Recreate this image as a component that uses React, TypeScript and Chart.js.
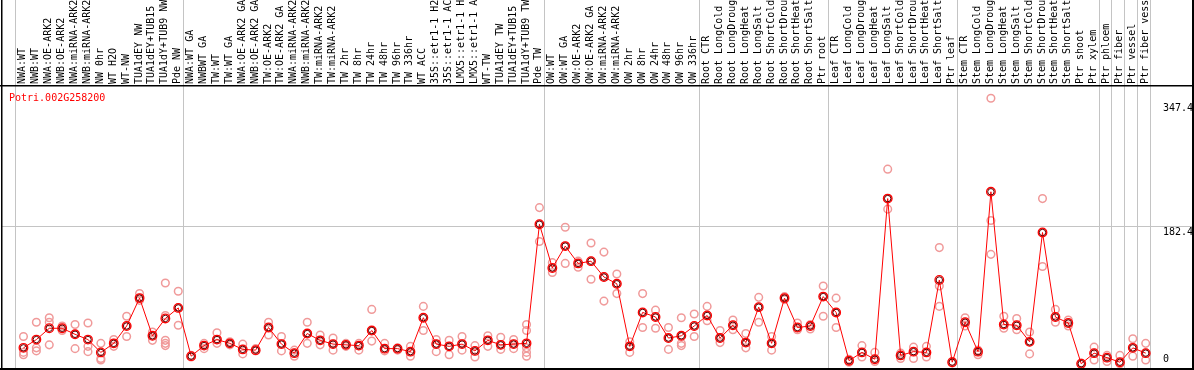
import React, { useEffect, useRef } from "react";
import { Chart, registerables } from "chart.js";

Chart.register(...registerables);

const GENE_ID = "Potri.002G258200";

const sampleLabels = [
  "NWA:WT", "NWB:WT", "NWA:OE-ARK2", "NWB:OE-ARK2", "NWA:miRNA-ARK2", "NWB:miRNA-ARK2",
  "NW 0hr", "WT H2O", "WT-NW", "TUA1dEY NW", "TUA1dEY+TUB15", "TUA1dY+TUB9 NW", "Pde NW",
  "NWA:WT GA", "NWBWT GA", "TW:WT", "TW:WT GA", "NWA:OE-ARK2 GA", "NWB:OE-ARK2 GA",
  "TW:OE-ARK2", "TW:OE-ARK2 GA", "NWA:miRNA-ARK2", "NWB:miRNA-ARK2", "TW:miRNA-ARK2",
  "TW:miRNA-ARK2", "TW 2hr", "TW 8hr", "TW 24hr", "TW 48hr", "TW 96hr", "TW 336hr",
  "WT ACC", "35S::etr1-1 H2", "35S::etr1-1 AC", "LMX5::etr1-1 H", "LMX5::etr1-1 A",
  "WT-TW", "TUA1dEY TW", "TUA1dEY+TUB15", "TUA1dY+TUB9 TW", "Pde TW",
  "OW:WT", "OW:WT GA", "OW:OE-ARK2", "OW:OE-ARK2 GA", "OW:miRNA-ARK2", "OW:miRNA-ARK2",
  "OW 2hr", "OW 8hr", "OW 24hr", "OW 48hr", "OW 96hr", "OW 336hr",
  "Root CTR", "Root LongCold", "Root LongDroug", "Root LongHeat", "Root LongSalt",
  "Root ShortCold", "Root ShortDrou", "Root ShortHeat", "Root ShortSalt", "Ptr root",
  "Leaf CTR", "Leaf LongCold", "Leaf LongDroug", "Leaf LongHeat", "Leaf LongSalt",
  "Leaf ShortCold", "Leaf ShortDrou", "Leaf ShortHeat", "Leaf ShortSalt", "Ptr leaf",
  "Stem CTR", "Stem LongCold", "Stem LongDroug", "Stem LongHeat", "Stem LongSalt",
  "Stem ShortCold", "Stem ShortDrou", "Stem ShortHeat", "Stem ShortSalt",
  "Ptr shoot", "Ptr xylem", "Ptr phloem", "Ptr fiber", "Ptr vessel", "Ptr fiber vess",
];

const meanValues = [
  21, 32, 47, 47, 39, 32, 15, 27, 50, 87, 37, 60, 74,
  10, 24, 32, 27, 19, 18, 48, 26, 14, 40, 31, 26, 25, 24, 44, 20, 20, 16, 61, 26, 23, 26, 17, 31, 25, 26, 27, 185,
  127, 156, 133, 136, 115, 106, 23, 68, 62, 34, 37, 50,
  64, 34, 51, 28, 75, 27, 87, 48, 50, 89,
  68, 4, 15, 6, 219, 11, 16, 15, 111, 2,
  55, 16, 228, 52, 51, 29, 174, 62, 54, 0, 14,
  8, 2, 21, 14,
];

const repHigh = [
  36, 55, 61, 50, 52, 54, 27, 32, 63, 93, 42, 107, 96,
  11, 27, 41, 29, 26, 20, 55, 36, 18, 55, 38, 34, 27, 27, 72, 27, 21, 23, 76, 32, 31, 36, 24, 37, 35, 32, 52, 207,
  134, 181, 136, 160, 148, 119, 29, 93, 71, 48, 61, 66,
  76, 44, 58, 40, 88, 36, 89, 54, 52, 103,
  87, 6, 24, 15, 258, 14, 22, 23, 154, 3,
  61, 18, 352, 63, 60, 42, 219, 72, 58, 1, 22,
  11, 11, 33, 27,
];

const repMid = [
  15, 21, 55, 47, 39, 23, 7, 27, 50, 87, 37, 64, 74,
  10, 24, 32, 27, 19, 18, 48, 26, 14, 40, 31, 26, 25, 24, 44, 20, 20, 16, 61, 26, 23, 26, 17, 31, 25, 26, 44, 185,
  127, 156, 133, 136, 115, 106, 23, 68, 62, 34, 37, 50,
  64, 34, 51, 28, 75, 27, 87, 48, 50, 89,
  68, 4, 15, 6, 219, 11, 16, 15, 103, 1,
  55, 16, 190, 52, 51, 29, 174, 62, 54, 0, 14,
  8, 2, 21, 14,
];

const repLow = [
  12, 17, 25, 44, 20, 16, 5, 23, 36, 84, 31, 31, 51,
  9, 20, 27, 25, 13, 17, 38, 17, 10, 27, 25, 18, 23, 18, 30, 17, 18, 10, 44, 16, 12, 18, 9, 23, 19, 20, 21, 162,
  121, 133, 128, 112, 83, 93, 15, 48, 47, 19, 27, 36,
  57, 28, 45, 21, 55, 18, 85, 45, 46, 63,
  48, 2, 9, 3, 205, 7, 7, 9, 76, 2,
  50, 12, 145, 47, 45, 13, 129, 55, 50, 0, 5,
  3, 0, 10, 5,
];

// [sample index, value] for samples with more than three replicates
const extraReps: [number, number][] = [
  [11, 27], [11, 24], [39, 15], [39, 10], [51, 24],
];

// boundaries between tissue groups (in sample-index units)
const groupBreaks = [-0.5, 12.5, 40.5, 52.5, 62.5, 72.5, 83.5, 84.5, 85.5, 86.5, 87.5];

const yTickValues = [347.4, 182.4, 0];
const yTickLabels = ["347.4", "182.4", "0"];

const FONT = '10px "DejaVu Sans Mono", "Liberation Mono", monospace';

export default function App() {
  const canvasRef = useRef<HTMLCanvasElement | null>(null);

  useEffect(() => {
    const canvas = canvasRef.current;
    if (!canvas) return;

    const repPoints: { x: number; y: number }[] = [];
    meanValues.forEach((_, i) => {
      repPoints.push({ x: i, y: repHigh[i] });
      repPoints.push({ x: i, y: repMid[i] });
      repPoints.push({ x: i, y: repLow[i] });
    });
    extraReps.forEach(([i, v]) => repPoints.push({ x: i, y: v }));

    const meanPoints = meanValues.map((v, i) => ({ x: i, y: v }));

    const decor = {
      id: "decor",
      beforeDatasetsDraw(chart: any) {
        const { ctx, scales } = chart;
        const xs = scales.x;
        const ys = scales.y;
        ctx.save();
        ctx.strokeStyle = "#c4c4c4";
        ctx.lineWidth = 1;
        groupBreaks.forEach((b) => {
          const px = Math.floor(xs.getPixelForValue(b) - 1.5) + 0.5;
          ctx.beginPath();
          ctx.moveTo(px, 0);
          ctx.lineTo(px, 368);
          ctx.stroke();
        });
        const gy = Math.round(ys.getPixelForValue(yTickValues[1])) + 0.5;
        ctx.beginPath();
        ctx.moveTo(1, gy);
        ctx.lineTo(1193, gy);
        ctx.stroke();
        ctx.restore();
      },
      afterDatasetsDraw(chart: any) {
        const { ctx, scales } = chart;
        const xs = scales.x;
        const ys = scales.y;
        ctx.save();
        // borders
        ctx.fillStyle = "#000";
        ctx.fillRect(1, 0, 1.5, 370);
        ctx.fillRect(1192, 0, 2, 370);
        ctx.fillRect(0, 85, 1194, 1.5);
        ctx.fillRect(0, 368, 1194, 2);

        // rotated sample labels
        ctx.font = FONT;
        ctx.fillStyle = "#000";
        ctx.textAlign = "left";
        ctx.textBaseline = "alphabetic";
        ctx.save();
        ctx.beginPath();
        ctx.rect(0, 0, 1194, 84.5);
        ctx.clip();
        sampleLabels.forEach((lab, i) => {
          const px = xs.getPixelForValue(i);
          ctx.save();
          ctx.translate(px + 2, 84);
          ctx.rotate(-Math.PI / 2);
          ctx.fillText(lab, 0, 0);
          ctx.restore();
        });
        ctx.restore();

        // gene id
        ctx.fillStyle = "#ff0000";
        ctx.fillText(GENE_ID, 9, 101);

        // y tick labels
        ctx.fillStyle = "#000";
        yTickValues.forEach((v, k) => {
          const py = ys.getPixelForValue(v);
          const base = v === 0 ? py - 2 : py + 9;
          ctx.fillText(yTickLabels[k], 1163, base);
        });
        ctx.restore();
      },
    };

    const chart = new Chart(canvas, {
      type: "line",
      data: {
        datasets: [
          {
            label: "replicates",
            data: repPoints,
            showLine: false,
            pointRadius: 3.8,
            pointBorderWidth: 1.5,
            pointBorderColor: "#f09a9a",
            pointBackgroundColor: "rgba(0,0,0,0)",
            borderColor: "#f09a9a",
            clip: false,
            order: 3,
          } as any,
          {
            label: "mean",
            data: meanPoints,
            borderColor: "#ff0000",
            borderWidth: 1,
            pointRadius: 4.3,
            pointBorderWidth: 1.3,
            pointBorderColor: "#ff0000",
            pointBackgroundColor: "rgba(0,0,0,0)",
            fill: false,
            tension: 0,
            clip: false,
            order: 2,
          } as any,
          {
            label: "meanInner",
            data: meanPoints,
            showLine: false,
            pointRadius: 3.2,
            pointBorderWidth: 1,
            pointBorderColor: "#5a0000",
            pointBackgroundColor: "rgba(0,0,0,0)",
            clip: false,
            order: 1,
          } as any,
        ],
      },
      options: {
        responsive: false,
        animation: false,
        devicePixelRatio: 1,
        layout: { padding: { left: 1, right: 1, top: 86, bottom: 2 } },
        scales: {
          x: { type: "linear", min: -1.385, max: 90.31, display: false },
          y: { type: "linear", min: -0.92, max: 368.3, display: false },
        },
        plugins: {
          legend: { display: false },
          tooltip: { enabled: false },
          title: { display: false },
        },
        events: [],
      },
      plugins: [decor],
    });

    return () => chart.destroy();
  }, []);

  return (
    <div style={{ position: "fixed", left: 0, top: 0, width: 1194, height: 370, background: "#fff" }}>
      <canvas ref={canvasRef} width={1194} height={370} style={{ display: "block" }} />
    </div>
  );
}
